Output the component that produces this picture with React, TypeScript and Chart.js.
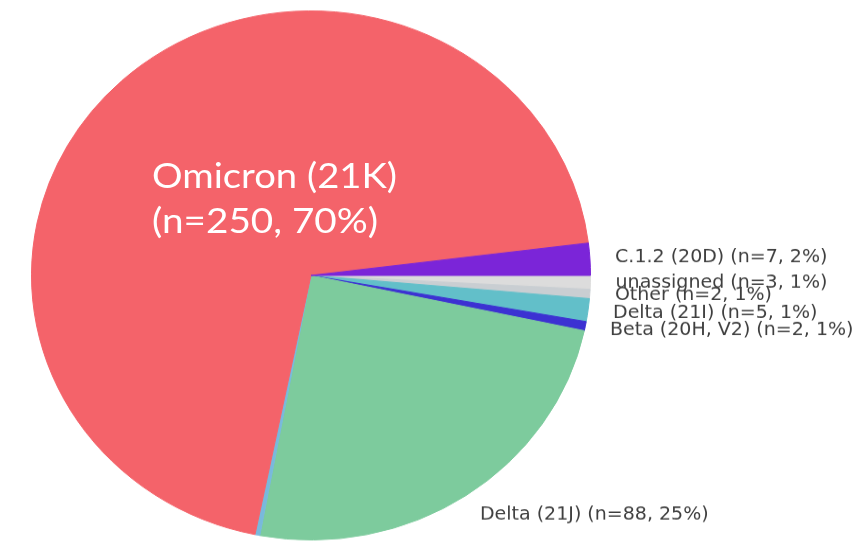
import React, { useEffect, useRef } from "react";
import { Chart, registerables } from "chart.js";

Chart.register(...registerables);

// Slices in clockwise order, starting at 3 o'clock
const sliceNames = [
  "unassigned",
  "Other",
  "Delta (21I)",
  "Beta (20H, V2)",
  "Delta (21J)",
  "",
  "Omicron (21K)",
  "C.1.2 (20D)",
];
const sliceCounts = [3, 2, 5, 2, 88, 1, 250, 7];
const sliceColors = [
  "#dcdcdc",
  "#c9ced2",
  "#62bfc9",
  "#3c31d2",
  "#7dcb9d",
  "#79b9dc",
  "#f4636a",
  "#7b25d8",
];
const overlayIndex = 6; // label shown as big white overlay text

const total = sliceCounts.reduce((a, b) => a + b, 0);
const pct = (v: number) => Math.round((v / total) * 100);
const sliceText = (i: number) => `${sliceNames[i]} (n=${sliceCounts[i]}, ${pct(sliceCounts[i])}%)`;

const SCALE_Y = 265 / 280;
const W = 856;
const H_INNER = Math.round(541 / SCALE_Y);

const labelPlugin = {
  id: "sliceLabels",
  afterDatasetsDraw(chart: any) {
    const ctx = chart.ctx;
    const meta = chart.getDatasetMeta(0);
    ctx.save();
    ctx.font = "19px 'DejaVu Sans'";
    ctx.fillStyle = "#3f3f3f";
    ctx.textBaseline = "middle";
    meta.data.forEach((arc: any, i: number) => {
      if (!sliceNames[i] || i === overlayIndex) return;
      const { x, y, startAngle, endAngle, outerRadius } = arc.getProps(
        ["x", "y", "startAngle", "endAngle", "outerRadius"],
        true
      );
      const mid = (startAngle + endAngle) / 2;
      const r = outerRadius * 1.09;
      const tx = x + Math.cos(mid) * r;
      const ty = y + Math.sin(mid) * r;
      ctx.textAlign = Math.cos(mid) >= 0 ? "left" : "right";
      ctx.fillText(sliceText(i), tx, ty);
    });
    ctx.restore();
  },
};

export default function App() {
  const ref = useRef<HTMLCanvasElement | null>(null);

  useEffect(() => {
    document.body.style.margin = "0";
    const canvas = ref.current;
    if (!canvas) return;
    const chart = new Chart(canvas, {
      type: "pie",
      data: {
        labels: sliceNames,
        datasets: [
          {
            data: sliceCounts,
            backgroundColor: sliceColors,
            borderColor: sliceColors,
            borderWidth: 1,
          },
        ],
      },
      options: {
        responsive: false,
        maintainAspectRatio: false,
        animation: false,
        rotation: 90,
        layout: { padding: { left: 31, right: 265, top: 11, bottom: 1 } },
        plugins: {
          legend: { display: false },
          tooltip: { enabled: false },
        },
      },
      plugins: [labelPlugin],
    });
    return () => chart.destroy();
  }, []);

  const omi = overlayIndex;
  return (
    <div style={{ position: "relative", width: W, height: 541, overflow: "hidden", background: "#fff" }}>
      <div style={{ transform: `scaleY(${SCALE_Y})`, transformOrigin: "0 0", width: W, height: H_INNER }}>
        <canvas ref={ref} width={W} height={H_INNER} style={{ width: W, height: H_INNER, display: "block" }} />
      </div>
      <svg
        width={W}
        height={541}
        style={{ position: "absolute", left: 0, top: 0, pointerEvents: "none" }}
      >
        <text
          x={152}
          y={188}
          fill="#ffffff"
          fontFamily="Lato"
          fontSize={35}
          textLength={245}
          lengthAdjust="spacingAndGlyphs"
        >
          {sliceNames[omi]}
        </text>
        <text
          x={152}
          y={233}
          fill="#ffffff"
          fontFamily="Lato"
          fontSize={35}
          textLength={226}
          lengthAdjust="spacingAndGlyphs"
        >
          {`(n=${sliceCounts[omi]}, ${pct(sliceCounts[omi])}%)`}
        </text>
      </svg>
    </div>
  );
}
